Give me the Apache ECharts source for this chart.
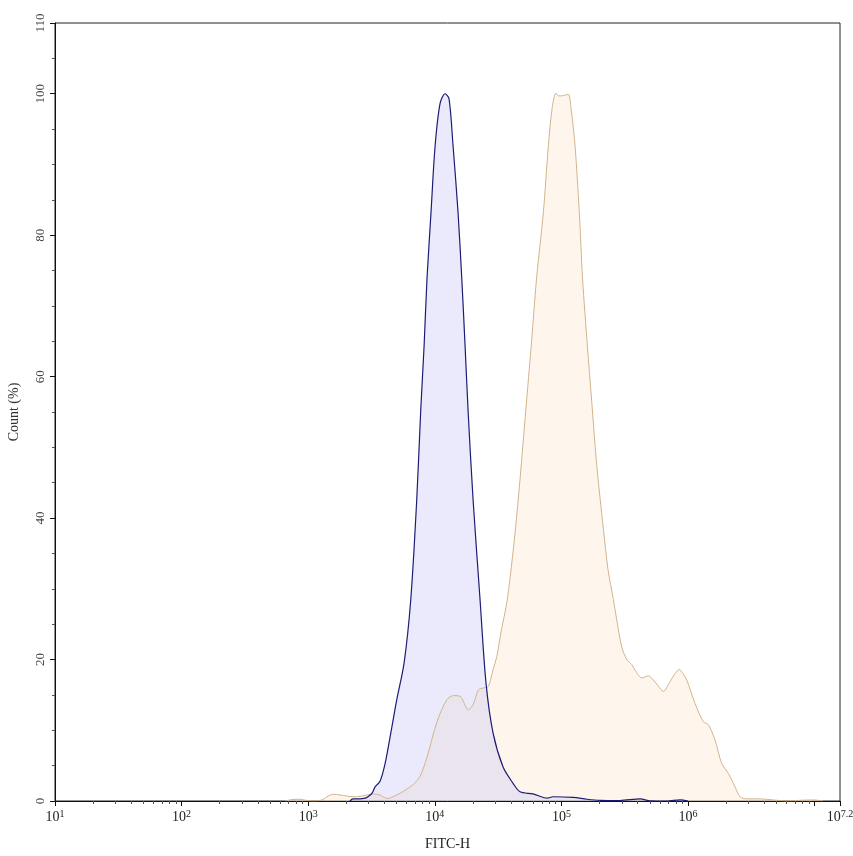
<!DOCTYPE html>
<html>
<head>
<meta charset="utf-8">
<script src="https://cdn.jsdelivr.net/npm/echarts@6/dist/echarts.min.js"></script>
<style>html,body{margin:0;padding:0;background:#fff}#c{width:853px;height:856px}</style>
</head>
<body>
<div id="c"></div>
<script>
// x values are log10(FITC-H); y values are Count (%)
const isoX = [3.330,3.354,3.409,3.449,3.472,3.504,3.528,3.567,3.607,3.652,3.699,3.757,3.810,3.857,3.889,3.915,3.938,3.970,4.002,4.041,4.081,4.112,4.144,4.183,4.213,4.239,4.262,4.302,4.357,4.404,4.460,4.539,4.618,4.673,4.776,4.886,4.934,5.092,5.202,5.305,5.463,5.621,5.700,5.834,5.937,6.000];
const isoY = [0,0.3,0.3,0.4,0.6,1.1,2.0,2.8,5.3,9.6,14.3,19.5,28.5,42.6,55.4,64.3,73.8,83.3,92.6,98.6,100,99.3,92.6,83.3,73.8,64.3,55.4,42.6,28.5,16.7,9.6,4.8,2.5,1.3,1.0,0.4,0.6,0.5,0.25,0.1,0.07,0.3,0.03,0,0.15,0];
const stainX = [2.817,2.872,2.935,2.991,3.054,3.109,3.148,3.196,3.251,3.306,3.354,3.409,3.464,3.512,3.567,3.622,3.670,3.725,3.780,3.828,3.883,3.938,4.017,4.094,4.146,4.199,4.265,4.304,4.344,4.389,4.423,4.460,4.489,4.523,4.568,4.594,4.634,4.673,4.719,4.761,4.803,4.857,4.897,4.926,4.957,4.977,5.002,5.028,5.055,5.076,5.107,5.141,5.167,5.205,5.239,5.279,5.331,5.368,5.410,5.437,5.476,5.516,5.555,5.589,5.634,5.686,5.726,5.763,5.805,5.858,5.897,5.931,5.960,5.990,6.055,6.121,6.160,6.213,6.266,6.318,6.371,6.411,6.464,6.569,6.671,6.780,6.885,6.990,7.066];
const stainY = [0,0.2,0.25,0.07,0,0.15,0.6,0.95,0.85,0.7,0.6,0.65,0.85,1.0,0.85,0.35,0.6,1.1,1.7,2.3,3.5,6.2,11.2,14.3,14.9,14.8,12.9,13.7,15.7,16.0,16.2,18.6,20.4,23.9,28.0,31.5,38.0,45.5,55.4,64.3,73.8,83.2,92.7,97.9,100.1,99.7,99.7,99.8,99.9,97.9,92.7,83.2,73.8,64.3,56.5,47.4,38.5,32.7,28.5,25.6,21.8,20.0,19.3,18.3,17.4,17.7,17.1,16.3,15.5,16.9,18.0,18.6,18.0,17.1,13.8,11.2,10.8,8.6,5.3,3.9,2.0,0.6,0.3,0.3,0.15,0,0.1,0.15,0];
const xLabelExps = [1,2,3,4,5,6,7.2];
const xMajorTicks = [1,2,3,4,5,6,7,7.2];
const yLabels = [0,20,40,60,80,100,110];
const yMinorTicks = [5,10,15,25,30,35,45,50,55,65,70,75,85,90,95,105];

const xMinorTicks = [];
for (let n = 1; n <= 7; n++) {
  for (let k = 2; k <= 9; k++) {
    const v = n + Math.log10(k);
    if (v < 7.2) xMinorTicks.push(v);
  }
}
const zip = (a, b) => a.map((v, i) => [v, b[i]]);
const serif = '"Liberation Serif", "DejaVu Serif", serif';

const chart = echarts.init(document.getElementById('c'), null, {renderer: 'canvas'});
chart.setOption({
  animation: false,
  grid: {left: 55, right: 13, top: 23, bottom: 55, containLabel: false, outerBoundsMode: 'none',
         show: true, borderColor: '#222', borderWidth: 1, backgroundColor: 'transparent'},
  xAxis: [{
    type: 'value', min: 1, max: 7.2, position: 'bottom',
    name: 'FITC-H', nameLocation: 'middle', nameGap: 36,
    nameTextStyle: {fontFamily: serif, fontSize: 14, color: '#222'},
    axisLine: {show: true, lineStyle: {color: '#111', width: 1}},
    splitLine: {show: false},
    axisTick: {show: true, length: 5, customValues: xMajorTicks, lineStyle: {color: '#111'}},
    axisLabel: {
      customValues: xLabelExps, margin: 8,
      formatter: v => '{b|10}{s|' + (Math.round(v * 10) / 10) + '}',
      rich: {
        b: {fontFamily: serif, fontSize: 14, color: '#222'},
        s: {fontFamily: serif, fontSize: 10, color: '#222', verticalAlign: 'top', padding: [0, 0, 6, 0]}
      }
    }
  }, {
    type: 'value', min: 1, max: 7.2, position: 'bottom', offset: 0,
    axisLine: {show: false}, splitLine: {show: false},
    axisLabel: {show: false},
    axisTick: {show: true, length: 3, customValues: xMinorTicks, lineStyle: {color: '#555'}}
  }],
  yAxis: [{
    type: 'value', min: 0, max: 110, interval: 10,
    name: 'Count (%)', nameLocation: 'middle', nameGap: 34, nameRotate: 90,
    nameTextStyle: {fontFamily: serif, fontSize: 14, color: '#333'},
    axisLine: {show: true, lineStyle: {color: '#111', width: 1}},
    splitLine: {show: false},
    axisTick: {show: true, length: 5, customValues: yLabels, lineStyle: {color: '#111'}},
    axisLabel: {customValues: yLabels, rotate: 90, margin: 8, fontFamily: serif, fontSize: 13, color: '#444'}
  }, {
    type: 'value', min: 0, max: 110, position: 'left', offset: 0,
    axisLine: {show: false}, splitLine: {show: false},
    axisLabel: {show: false},
    axisTick: {show: true, length: 3, customValues: yMinorTicks, lineStyle: {color: '#555'}}
  }],
  series: [{
    name: 'stained', type: 'line', xAxisIndex: 0, yAxisIndex: 0, data: zip(stainX, stainY),
    smooth: 0.3, symbol: 'none',
    lineStyle: {color: '#d2b48c', width: 1},
    areaStyle: {color: 'rgba(252,236,216,0.7)'}
  }, {
    name: 'isotype', type: 'line', xAxisIndex: 0, yAxisIndex: 0, data: zip(isoX, isoY),
    smooth: 0.3, symbol: 'none',
    lineStyle: {color: '#1c1c74', width: 1.2},
    areaStyle: {color: 'rgba(170,170,245,0.36)'}
  }]
});
</script>
</body>
</html>
